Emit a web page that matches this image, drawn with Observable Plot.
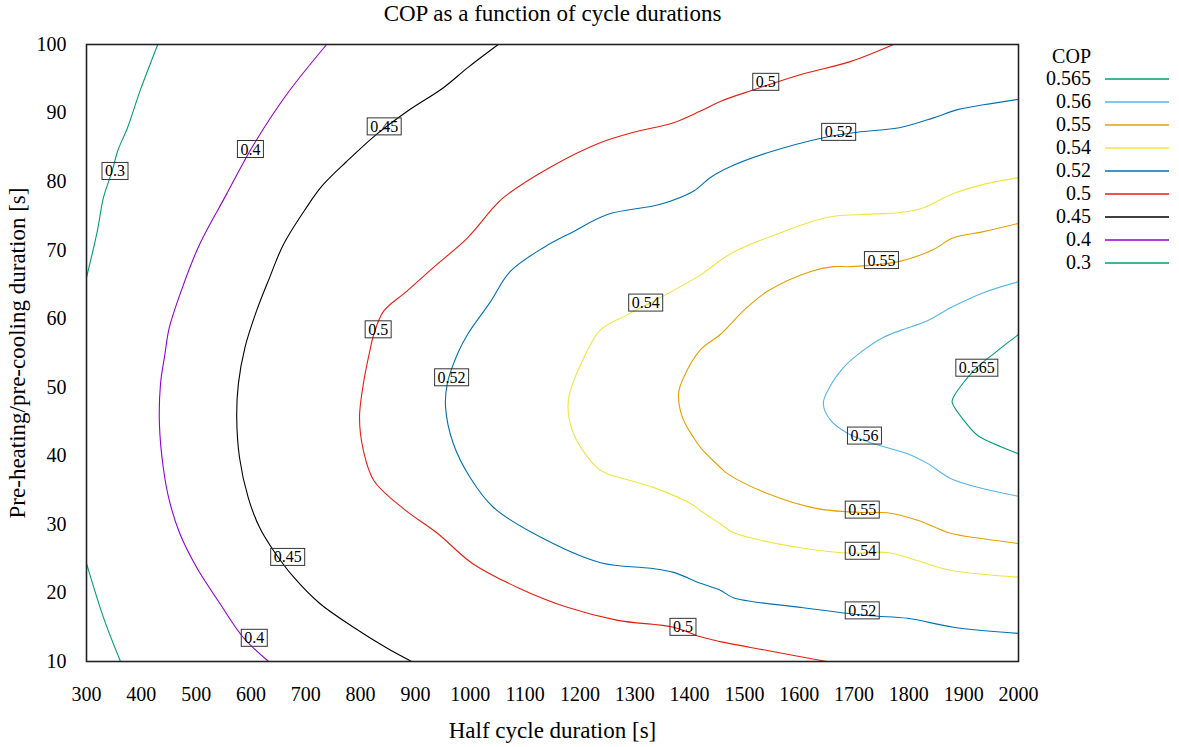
<!DOCTYPE html>
<html>
<head>
<meta charset="utf-8">
<script src="https://cdn.jsdelivr.net/npm/d3@7"></script>
<script src="https://cdn.jsdelivr.net/npm/@observablehq/plot@0.6"></script>
<style>
  html, body { margin: 0; padding: 0; background: #fff; }
  #chart { width: 1179px; height: 747px; }
</style>
</head>
<body>
<div id="chart"></div>
<script>
// ---------- data ----------
const titleText = "COP as a function of cycle durations";
const xLabelText = "Half cycle duration [s]";
const yLabelText = "Pre-heating/pre-cooling duration [s]";
const legendTitle = "COP";

const xTicks = [300, 400, 500, 600, 700, 800, 900, 1000, 1100, 1200, 1300, 1400, 1500, 1600, 1700, 1800, 1900, 2000];
const yTicks = [10, 20, 30, 40, 50, 60, 70, 80, 90, 100];

const levels = ["0.565", "0.56", "0.55", "0.54", "0.52", "0.5", "0.45", "0.4", "0.3"];
const levelColors = ["#009e73", "#56b4e9", "#e69f00", "#f0e442", "#0072b2", "#e51e10", "#000000", "#9400d3", "#009e73"];

// contour lines: [half cycle duration, pre-heating duration]
const contour030a = [[430,100],[398,93.3],[375,87.9],[357,84.5],[347,81.6],[331,77.7],[320,72.9],[300,66.0]];
const contour030b = [[300,24.3],[331,16.4],[362,10]];
const contour040 = [[738,100],[665,92.7],[605,85.4],[555,78.1],[506,70.8],[477,65.0],[451,58.7],[443,54.8],[435,50.5],[433,44.7],[440,38.3],[451,33.5],[470,28.7],[501,23.7],[543,18.5],[586,13.5],[632,10]];
const contour045 = [[1051,100],[995,96.6],[951,93.7],[884,90.2],[829,86.9],[774,82.9],[730,79.4],[701,76.2],[659,70.8],[634,66.0],[610,61.1],[589,55.8],[577,50.5],[574,45.6],[579,39.8],[595,33.9],[616,29.5],[641,26.2],[678,22.3],[725,18.5],[787,15.0],[847,12.0],[893,10]];
const contour050 = [[1772,100],[1693,97.5],[1602,95.6],[1517,93.4],[1456,91.7],[1420,90.3],[1371,88.6],[1298,87.2],[1238,85.7],[1146,82.1],[1061,77.7],[1042,76.2],[995,71.8],[933,67.5],[884,64.0],[842,61.1],[824,57.7],[816,55.0],[805,50.5],[798,45.6],[805,40.8],[824,36.4],[878,32.3],[940,28.7],[1004,24.3],[1086,20.8],[1177,17.9],[1269,16.0],[1371,15.0],[1420,13.6],[1456,12.9],[1542,11.6],[1650,10]];
const contour052 = [[2000,92.0],[1936,91.2],[1889,90.5],[1845,89.3],[1785,87.9],[1706,87.2],[1644,86.4],[1542,84.2],[1475,82.2],[1438,80.6],[1407,78.6],[1347,76.7],[1250,75.2],[1188,72.7],[1134,70.4],[1073,66.9],[1037,62.5],[995,57.7],[978,55.1],[958,50.5],[955,47.0],[969,41.8],[1000,36.8],[1042,32.5],[1115,28.7],[1238,24.4],[1329,23.6],[1371,23.0],[1420,21.4],[1456,20.4],[1480,19.3],[1602,17.9],[1725,16.7],[1798,16.3],[1881,15.0],[2000,14.1]];
const contour054 = [[2000,80.6],[1936,79.6],[1876,78.1],[1827,76.2],[1785,75.5],[1712,75.2],[1652,74.8],[1571,72.7],[1480,69.7],[1456,68.5],[1420,66.4],[1347,63.1],[1287,60.6],[1238,58.4],[1212,55.1],[1179,48.1],[1188,43.3],[1232,38.2],[1250,37.4],[1334,35.4],[1407,32.8],[1420,32.0],[1456,30.1],[1480,28.8],[1602,26.6],[1694,25.8],[1761,25.9],[1816,24.7],[1876,23.3],[2000,22.3]];
const contour055 = [[2000,73.9],[1936,72.7],[1881,71.8],[1845,70.1],[1785,68.4],[1694,67.6],[1663,67.6],[1621,66.9],[1542,64.0],[1500,61.3],[1456,57.7],[1420,55.5],[1389,51.4],[1380,49.1],[1387,45.6],[1407,42.7],[1422,41.0],[1456,38.3],[1469,37.4],[1542,34.5],[1633,32.3],[1725,31.7],[1761,31.7],[1816,30.6],[1876,28.7],[1936,27.9],[2000,27.2]];
const contour056 = [[2000,65.4],[1936,63.8],[1876,61.6],[1834,59.7],[1785,58.3],[1754,57.3],[1712,55.1],[1681,52.9],[1652,49.5],[1644,47.6],[1657,45.2],[1688,43.3],[1735,41.8],[1798,40.3],[1834,38.9],[1876,36.7],[1936,35.2],[2000,34.1]];
const contour0565 = [[2000,57.7],[1958,55.1],[1918,52.4],[1881,48.5],[1879,47.8],[1900,45.2],[1925,43.0],[1954,41.8],[2000,40.3]];

// contour labels
const labelLevels = ["0.3","0.4","0.4","0.45","0.45","0.5","0.5","0.5","0.52","0.52","0.52","0.54","0.54","0.55","0.55","0.56","0.565"];
const labelX = [352,599,606,843,667,832,1539,1388,966,1672,1715,1320,1715,1750,1715,1719,1924];
const labelY = [81.5,84.7,13.4,88.0,25.2,58.4,94.5,15.0,51.4,87.2,17.4,62.3,26.1,68.5,32.1,42.9,52.8];

// ---------- build tables ----------
const segments = [
  ["0.3", contour030a], ["0.3", contour030b], ["0.4", contour040], ["0.45", contour045],
  ["0.5", contour050], ["0.52", contour052], ["0.54", contour054], ["0.55", contour055],
  ["0.56", contour056], ["0.565", contour0565]
];
const colorOf = new Map(levels.map((l, i) => [l, levelColors[i]]));
const lineRows = [];
segments.forEach(([lvl, pts], id) => pts.forEach(([x, y]) => lineRows.push({id, level: lvl, x, y, color: colorOf.get(lvl)})));
const labelRows = labelLevels.map((t, i) => ({text: t, x: labelX[i], y: labelY[i]}));

const FONT = "'Liberation Serif', 'Times New Roman', Times, serif";

const chart = Plot.plot({
  width: 1179,
  height: 747,
  marginLeft: 86,
  marginRight: 161,
  marginTop: 44,
  marginBottom: 86,
  style: {fontFamily: FONT, fontSize: "20px", background: "#fff", color: "#000", overflow: "visible"},
  x: {domain: [300, 2000]},
  y: {domain: [10, 100]},
  color: {type: "identity"},
  marks: [
    Plot.line(lineRows, {x: "x", y: "y", z: "id", stroke: "color", strokeWidth: 1.1, curve: "catmull-rom"}),
    Plot.text(labelRows, {x: "x", y: "y", text: "text", fontSize: 16, fill: "#000", ariaDescription: "contour-labels"}),
    Plot.frame({stroke: "#222", strokeWidth: 1.6}),
    Plot.axisX({ticks: xTicks, tickSize: 0, tickPadding: 25, label: null, fontSize: 20, tickFormat: d => String(d)}),
    Plot.axisY({ticks: yTicks, tickSize: 0, tickPadding: 20, label: null, fontSize: 20, tickFormat: d => String(d)}),
    Plot.text([titleText], {frameAnchor: "top", lineAnchor: "middle", dy: -31, fontSize: 23, fill: "#000"}),
    Plot.text([xLabelText], {frameAnchor: "bottom", lineAnchor: "middle", dy: 69, fontSize: 23, fill: "#000"}),
    Plot.text([yLabelText], {frameAnchor: "left", textAnchor: "middle", lineAnchor: "middle", dx: -69, rotate: -90, fontSize: 23, fill: "#000"})
  ]
});
document.getElementById("chart").appendChild(chart);

// ---------- boxes round contour labels ----------
const svg = d3.select(chart);
let labelGroup = svg.select('g[aria-description="contour-labels"]');
if (labelGroup.empty()) labelGroup = svg.select('g[aria-label="text"]');
labelGroup.selectAll("text").each(function () {
  const b = this.getBBox();
  const padX = 3;
  const r = d3.select(this.parentNode).insert("rect", () => this)
    .attr("x", b.x - padX).attr("y", b.y)
    .attr("width", b.width + 2 * padX).attr("height", b.height)
    .attr("fill", "none").attr("stroke", "#333").attr("stroke-width", 1);
  const t = this.getAttribute("transform");
  if (t) r.attr("transform", t);
});

// ---------- legend ----------
const legendRight = 1091, legendTop = 57, legendStep = 23;
const lg = svg.append("g").attr("font-family", FONT).attr("font-size", 20);
lg.append("text").attr("x", legendRight).attr("y", legendTop).attr("dy", "0.32em")
  .attr("text-anchor", "end").attr("fill", "#000").text(legendTitle);
levels.forEach((lvl, i) => {
  const y = legendTop + legendStep * (i + 1) - 1;
  lg.append("text").attr("x", legendRight).attr("y", y).attr("dy", "0.32em")
    .attr("text-anchor", "end").attr("fill", "#000").text(lvl);
  lg.append("line").attr("x1", 1105).attr("x2", 1169).attr("y1", y).attr("y2", y)
    .attr("stroke", levelColors[i]).attr("stroke-width", 1.3);
});
</script>
</body>
</html>
